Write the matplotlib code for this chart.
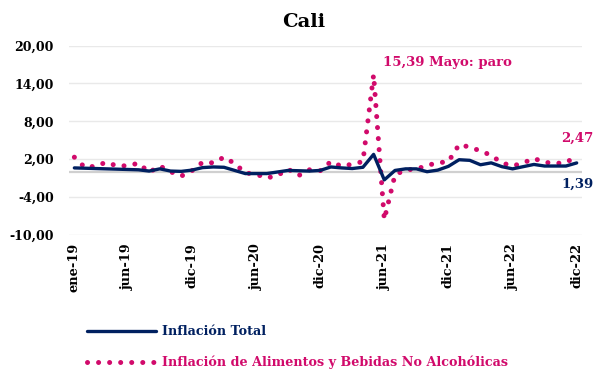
import matplotlib
matplotlib.use("Agg")
import matplotlib.pyplot as plt
import numpy as np

# variación mensual (%) Cali, ene-19 a dic-22
meses = ["ene-19", "jun-19", "dic-19", "jun-20", "dic-20",
         "jun-21", "dic-21", "jun-22", "dic-22"]
pos_meses = [0, 5, 11, 17, 23, 29, 35, 41, 47]

inflacion_total = [
    0.60, 0.55, 0.50, 0.45, 0.40, 0.35, 0.30, 0.10, 0.45, 0.10, 0.05, 0.25,
    0.65, 0.75, 0.70, 0.20, -0.30, -0.30, -0.30, -0.05, 0.20, 0.15, 0.10, 0.20,
    0.75, 0.60, 0.50, 0.70, 2.75, -1.30, 0.20, 0.45, 0.45, 0.00, 0.25, 0.85,
    1.90, 1.80, 1.10, 1.40, 0.80, 0.45, 0.80, 1.15, 0.90, 0.90, 0.90, 1.39,
]
inflacion_alimentos = [
    2.30, 0.65, 0.90, 1.50, 0.90, 0.95, 1.35, -0.10, 0.90, 0.00, -0.70, 0.15,
    1.50, 1.40, 2.30, 1.30, -0.20, -0.40, -1.00, -0.60, 0.40, -0.60, 0.30, 0.15,
    1.60, 0.85, 1.20, 1.60, 15.39, -7.60, -0.50, 0.30, 0.40, 1.00, 1.40, 1.60,
    4.30, 3.90, 3.30, 2.60, 1.40, 0.90, 1.40, 2.10, 1.50, 1.30, 1.45, 2.47,
]
yticks = [-10, -4, 2, 8, 14, 20]

azul = "#002060"
magenta = "#D10A6B"
plt.rcParams["font.family"] = "DejaVu Serif"
plt.rcParams["font.weight"] = "bold"

fig = plt.figure(figsize=(5.97, 3.73), dpi=100)
ax = fig.add_axes([0.1156, 0.3708, 0.8593, 0.5067])

x = np.arange(len(inflacion_total))
ax.plot(x, inflacion_total, color=azul, lw=2.4, solid_capstyle="round",
        solid_joinstyle="round", label="Inflación Total", zorder=4)
ax.plot(x, inflacion_alimentos, color=magenta, lw=3.6,
        linestyle=(0, (0.01, 2.2)), dash_capstyle="round",
        label="Inflación de Alimentos y Bebidas No Alcohólicas", zorder=3)

ax.set_xlim(-0.5, len(x) - 0.5)
ax.set_ylim(-10, 20)
ax.set_yticks(yticks)
ax.set_yticklabels([f"{v:.2f}".replace(".", ",") for v in yticks], fontsize=9)
ax.set_xticks(pos_meses)
ax.set_xticklabels(meses, rotation=90, fontsize=9.3)
ax.tick_params(axis="both", length=0)
ax.tick_params(axis="y", pad=11)
ax.tick_params(axis="x", pad=6)
for s in ax.spines.values():
    s.set_visible(False)
ax.grid(axis="y", color="#e9e9e9", lw=1)
ax.axhline(0, color="#d0d0d0", lw=1.6, zorder=2)

i_pico = int(np.argmax(inflacion_alimentos))
ax.text(i_pico + 0.9, inflacion_alimentos[i_pico] + 2.0,
        f"{inflacion_alimentos[i_pico]:.2f}".replace(".", ",") + " Mayo: paro",
        color=magenta, fontsize=9.5, ha="left", va="center")
ax.text(45.5, inflacion_alimentos[-1] + 2.8,
        f"{inflacion_alimentos[-1]:.2f}".replace(".", ","),
        color=magenta, fontsize=9.5, ha="left", va="center", clip_on=False)
ax.text(45.6, inflacion_total[-1] - 3.4,
        f"{inflacion_total[-1]:.2f}".replace(".", ","),
        color=azul, fontsize=9.5, ha="left", va="center", clip_on=False)

fig.text(304 / 597, 1 - 22 / 373, "Cali", fontsize=14, ha="center", va="center")

fig.legend(loc="upper left", bbox_to_anchor=(87 / 597, 1 - 325 / 373),
           frameon=False, fontsize=9.2, handlelength=5.4, handletextpad=0.5,
           labelspacing=1.4, borderpad=0, borderaxespad=0,
           labelcolor="linecolor")

fig.savefig("out.png", dpi=100)
